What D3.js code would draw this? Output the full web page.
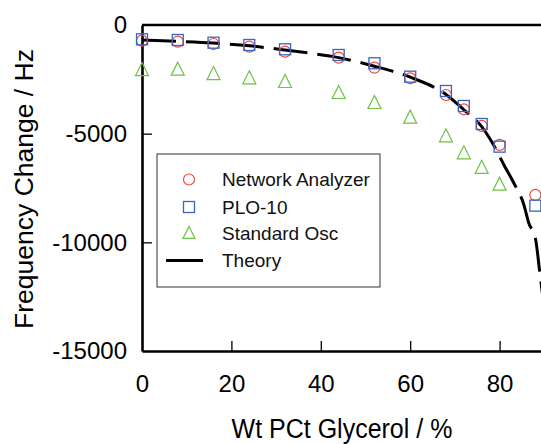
<!DOCTYPE html>
<html>
<head>
<meta charset="utf-8">
<script src="https://cdn.jsdelivr.net/npm/d3@7/dist/d3.min.js"></script>
<style>
  html, body { margin: 0; padding: 0; background: #fff; }
  svg { display: block; font-family: "Liberation Sans", Arial, sans-serif; }
</style>
</head>
<body>
<svg id="chart" width="541" height="444"></svg>
<script>
// wt % glycerol for the measured points
const glycerol = [0, 8, 16, 24, 32, 44, 52, 60, 68, 72, 76, 80, 88];
const networkAnalyzer = [-722, -768, -874, -998, -1228, -1504, -1964, -2452, -3220, -3878, -4646, -5520, -7820];
const plo10 = [-658, -690, -814, -920, -1118, -1380, -1761, -2378, -3036, -3726, -4554, -5598, -8312];
const standardOsc = [-2056, -2040, -2240, -2438, -2607, -3113, -3573, -4246, -5106, -5888, -6556, -7330, null];

// theory curve
const theoryX = [0, 8, 16, 24, 32, 38, 44, 52, 60, 68, 72, 76, 79, 81, 83, 85.5, 86.5, 88, 89, 89.6];
const theoryY = [-690, -750, -830, -960, -1150, -1310, -1500, -1900, -2400, -3200, -3900, -4680, -5650,
  -6450, -7200, -8320, -9100, -9800, -11400, -12400];

const xTicks = [0, 20, 40, 60, 80];
const yTicks = [0, -5000, -10000, -15000];
const legendLabels = ["Network Analyzer", "PLO-10", "Standard Osc", "Theory"];

const RED = "#ee4444", BLUE = "#3b63c0", GREEN = "#6cc242";

const svg = d3.select("#chart");
const x = d3.scaleLinear().domain([0, 100]).range([142, 589]);
const y = d3.scaleLinear().domain([-15000, 0]).range([351, 25]);

// frame top line
svg.append("line").attr("x1", x(0)).attr("x2", x(100)).attr("y1", y(0)).attr("y2", y(0))
  .attr("stroke", "#000").attr("stroke-width", 2.6);

const xAxis = svg.append("g").attr("transform", `translate(0,${y(-15000)})`)
  .call(d3.axisBottom(x).tickValues(xTicks).tickSize(-10).tickSizeOuter(0).tickPadding(24));
const yAxis = svg.append("g").attr("transform", `translate(${x(0)},0)`)
  .call(d3.axisLeft(y).tickValues(yTicks).tickSize(-10).tickSizeOuter(0).tickPadding(15)
    .tickFormat((d) => String(d)));

[xAxis, yAxis].forEach((a) => {
  a.select(".domain").attr("stroke", "#000").attr("stroke-width", 2.6);
  a.selectAll(".tick line").attr("stroke", "#000").attr("stroke-width", 1.3);
  a.selectAll(".tick text").attr("fill", "#000").attr("font-size", 24).attr("font-family", "Liberation Sans, Arial, sans-serif");
});
// hide tick marks that sit on the frame
yAxis.selectAll(".tick").filter((d) => d === 0 || d === -15000).select("line").remove();
xAxis.selectAll(".tick").filter((d) => d === 0).select("line").remove();

// axis titles
svg.append("text").attr("x", 342).attr("y", 438).attr("text-anchor", "middle")
  .attr("font-size", 25).attr("fill", "#000")
  .attr("transform", "translate(0,438) scale(1,1.12) translate(0,-438)")
  .text("Wt PCt Glycerol / %");
svg.append("text").attr("transform", "translate(33,189) rotate(-90)").attr("text-anchor", "middle")
  .attr("font-size", 26.5).attr("fill", "#000").text("Frequency Change / Hz");

// theory line
const pts = theoryX.map((v, i) => [v, theoryY[i]]);
svg.append("path").datum(pts)
  .attr("fill", "none").attr("stroke", "#000").attr("stroke-width", 3)
  .attr("stroke-dasharray", "34,10")
  .attr("d", d3.line().x((d) => x(d[0])).y((d) => y(d[1])).curve(d3.curveMonotoneX));

const triPath = (s) => `M0,${-s * 0.55}L${s / 2},${s * 0.45}L${-s / 2},${s * 0.45}Z`;

// markers
svg.append("g").selectAll("path")
  .data(glycerol.map((g, i) => [g, standardOsc[i]]).filter((d) => d[1] != null))
  .join("path")
  .attr("transform", (d) => `translate(${x(d[0])},${y(d[1])})`)
  .attr("d", triPath(13)).attr("fill", "none").attr("stroke", GREEN).attr("stroke-width", 1.2);

svg.append("g").selectAll("circle")
  .data(glycerol.map((g, i) => [g, networkAnalyzer[i]]))
  .join("circle")
  .attr("cx", (d) => x(d[0])).attr("cy", (d) => y(d[1])).attr("r", 5.5)
  .attr("fill", "none").attr("stroke", RED).attr("stroke-width", 1.2);

svg.append("g").selectAll("rect")
  .data(glycerol.map((g, i) => [g, plo10[i]]))
  .join("rect")
  .attr("x", (d) => x(d[0]) - 5.5).attr("y", (d) => y(d[1]) - 5.5)
  .attr("width", 11).attr("height", 11)
  .attr("fill", "none").attr("stroke", BLUE).attr("stroke-width", 1.3);

// legend
const lg = svg.append("g");
lg.append("rect").attr("x", 157).attr("y", 154).attr("width", 223).attr("height", 133)
  .attr("fill", "#fff").attr("stroke", "#333").attr("stroke-width", 1);
const rowY = [179.5, 207, 233, 260.5];
lg.append("circle").attr("cx", 189).attr("cy", rowY[0]).attr("r", 5.5)
  .attr("fill", "none").attr("stroke", RED).attr("stroke-width", 1.2);
lg.append("rect").attr("x", 183.5).attr("y", rowY[1] - 5.5).attr("width", 11).attr("height", 11)
  .attr("fill", "none").attr("stroke", BLUE).attr("stroke-width", 1.3);
lg.append("path").attr("transform", `translate(189,${rowY[2]})`).attr("d", triPath(12))
  .attr("fill", "none").attr("stroke", GREEN).attr("stroke-width", 1.2);
lg.append("line").attr("x1", 166).attr("x2", 203).attr("y1", rowY[3]).attr("y2", rowY[3])
  .attr("stroke", "#000").attr("stroke-width", 3);
lg.selectAll("text").data(legendLabels).join("text")
  .attr("x", 222).attr("y", (d, i) => rowY[i] + 6.5)
  .attr("font-size", 19).attr("fill", "#111").text((d) => d);
</script>
</body>
</html>
